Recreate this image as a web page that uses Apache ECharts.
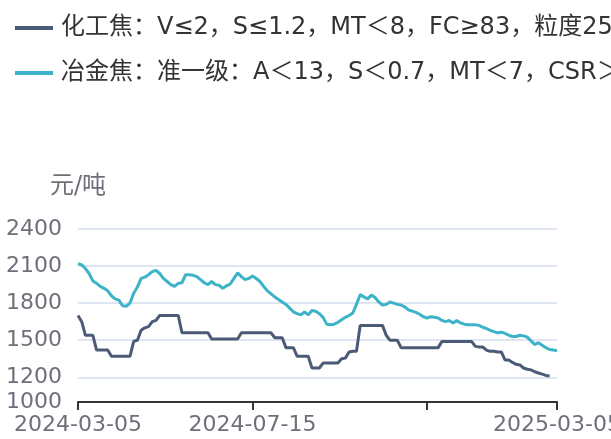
<!DOCTYPE html>
<html>
<head>
<meta charset="utf-8">
<script src="https://cdn.jsdelivr.net/npm/echarts@6/dist/echarts.min.js"></script>
<style>
  html, body { margin: 0; padding: 0; background: #fff; }
  #chart { width: 611px; height: 439px; }
</style>
</head>
<body>
<div id="chart"></div>
<script>
const dates = [
  '2024-03-05','2024-03-07','2024-03-10','2024-03-13','2024-03-16','2024-03-19','2024-03-22','2024-03-25','2024-03-28','2024-03-31',
  '2024-04-03','2024-04-05','2024-04-08','2024-04-11','2024-04-14','2024-04-17','2024-04-20','2024-04-23','2024-04-26','2024-04-28',
  '2024-05-01','2024-05-04','2024-05-07','2024-05-10','2024-05-13','2024-05-16','2024-05-18','2024-05-21','2024-05-24','2024-05-27',
  '2024-05-30','2024-06-02','2024-06-04','2024-06-07','2024-06-10','2024-06-13','2024-06-16','2024-06-18','2024-06-21','2024-06-24',
  '2024-06-27','2024-06-30','2024-07-02','2024-07-05','2024-07-08','2024-07-10','2024-07-12','2024-07-15',
  '2024-07-18','2024-07-21','2024-07-24','2024-07-27','2024-07-30','2024-08-02','2024-08-05','2024-08-08','2024-08-11','2024-08-14',
  '2024-08-17','2024-08-20','2024-08-23','2024-08-26','2024-08-29','2024-09-01','2024-09-04','2024-09-07','2024-09-10','2024-09-13',
  '2024-09-16','2024-09-19','2024-09-22','2024-09-25','2024-09-28','2024-10-01','2024-10-04','2024-10-07','2024-10-10','2024-10-13',
  '2024-10-16','2024-10-19','2024-10-22','2024-10-25','2024-10-28','2024-10-31','2024-11-03','2024-11-06','2024-11-09','2024-11-12',
  '2024-11-15','2024-11-18','2024-11-21','2024-11-24','2024-11-27','2024-11-30','2024-12-03','2024-12-06','2024-12-09','2024-12-12',
  '2024-12-15','2024-12-18','2024-12-21','2024-12-24','2024-12-27','2024-12-30','2025-01-02','2025-01-05','2025-01-08','2025-01-11',
  '2025-01-14','2025-01-17','2025-01-20','2025-01-23','2025-01-26','2025-01-29','2025-02-01','2025-02-04','2025-02-07','2025-02-10',
  '2025-02-13','2025-02-17','2025-02-19','2025-02-21','2025-02-24','2025-02-25','2025-02-26','2025-02-27','2025-02-28','2025-03-03',
  '2025-03-04','2025-03-05'
];

// 化工焦
const chemCoke = [
  1700,1650,1540,1540,1540,1420,1420,1420,1420,1370,
  1370,1370,1370,1370,1370,1490,1500,1580,1600,1610,
  1650,1660,1700,1700,1700,1700,1700,1700,1560,1560,
  1560,1560,1560,1560,1560,1560,1510,1510,1510,1510,
  1510,1510,1510,1510,1560,1560,1560,1560,1560,1560,
  1560,1560,1560,1520,1520,1520,1440,1440,1440,1370,
  1370,1370,1370,1275,1275,1275,1315,1315,1315,1315,
  1315,1350,1355,1405,1410,1410,1620,1620,1620,1620,
  1620,1620,1620,1540,1500,1500,1500,1440,1440,1440,
  1440,1440,1440,1440,1440,1440,1440,1440,1490,1490,
  1490,1490,1490,1490,1490,1490,1490,1450,1445,1445,
  1420,1410,1410,1405,1405,1340,1340,1320,1305,1300,
  1275,1265,1260,1245,1235,1225,1215,1210,null,null
];

// 冶金焦
const metCoke = [
  2120,2110,2080,2040,1980,1960,1935,1920,1900,1860,
  1835,1825,1780,1775,1800,1880,1930,2000,2010,2030,
  2055,2065,2040,2000,1975,1950,1935,1960,1965,2030,
  2030,2025,2015,1990,1965,1950,1975,1950,1945,1920,
  1940,1955,2000,2045,2015,1990,2000,2020,2000,1975,
  1935,1900,1875,1850,1830,1810,1790,1760,1730,1715,
  1705,1730,1705,1740,1735,1715,1685,1630,1625,1630,
  1645,1665,1685,1700,1720,1790,1870,1850,1835,1865,
  1845,1810,1785,1790,1810,1800,1790,1785,1770,1745,
  1735,1725,1710,1690,1680,1690,1685,1680,1660,1650,
  1660,1640,1660,1640,1630,1625,1625,1625,1620,1605,
  1595,1580,1570,1560,1565,1555,1540,1530,1530,1540,
  1535,1525,1495,1465,1480,1460,1440,1425,1420,1415
];

const seriesNames = [
  '化工焦：V≤2，S≤1.2，MT＜8，FC≥83，粒度25-40mm',
  '冶金焦：准一级：A＜13，S＜0.7，MT＜7，CSR＞60'
];
const colors = ['#4b5a76', '#3cb3c8'];

const FONT = "'DejaVu Sans', 'Noto Sans CJK SC', sans-serif";
const lastIdx = dates.length - 1;

const chart = echarts.init(document.getElementById('chart'), null, { renderer: 'canvas' });

chart.setOption({
  animation: false,
  color: colors,
  textStyle: { fontFamily: FONT },
  legend: {
    orient: 'vertical',
    left: 10,
    top: 11,
    icon: 'rect',
    itemWidth: 38,
    itemHeight: 4,
    itemGap: 21,
    textStyle: { fontSize: 24, color: '#333', fontFamily: FONT, padding: [0, 0, 0, 3] },
    data: seriesNames
  },
  grid: {
    left: 78, right: 54, top: 229, bottom: 37,
    containLabel: false,
    outerBoundsMode: 'none'
  },
  xAxis: {
    type: 'category',
    data: dates,
    boundaryGap: false,
    axisLine: { lineStyle: { color: '#333', width: 2 } },
    axisTick: {
      length: 8,
      lineStyle: { color: '#333', width: 2 },
      interval: (i) => i % 47 === 0 || i === lastIdx
    },
    axisLabel: {
      fontSize: 22,
      color: '#6e7079',
      fontFamily: FONT,
      margin: 12,
      interval: (i) => i === 0 || i === 47 || i === lastIdx
    },
    splitLine: { show: false }
  },
  yAxis: {
    type: 'value',
    min: 1000,
    max: 2400,
    name: '元/吨',
    nameGap: 30,
    nameTextStyle: { fontSize: 24, color: '#6e7079', fontFamily: FONT },
    axisLine: { show: false },
    axisTick: { show: false },
    axisLabel: {
      fontSize: 22, color: '#6e7079', fontFamily: FONT, margin: 16,
      formatter: (v) => String(v)
    },
    splitLine: { lineStyle: { color: '#e0e6f1', width: 2 } }
  },
  series: [
    {
      name: seriesNames[0],
      type: 'line',
      data: chemCoke,
      symbol: 'none',
      lineStyle: { width: 3, color: colors[0] },
      itemStyle: { color: colors[0] }
    },
    {
      name: seriesNames[1],
      type: 'line',
      data: metCoke,
      symbol: 'none',
      lineStyle: { width: 3, color: colors[1] },
      itemStyle: { color: colors[1] }
    }
  ]
});
</script>
</body>
</html>
